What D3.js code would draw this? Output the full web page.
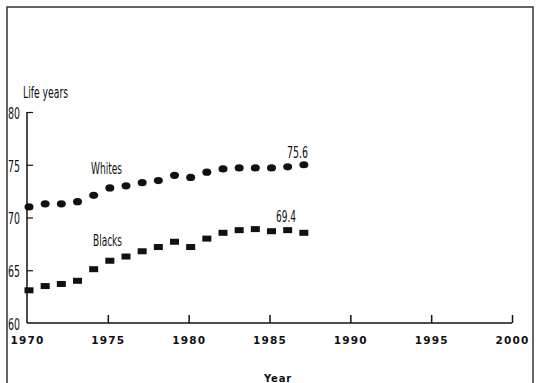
<!DOCTYPE html>
<html>
<head>
<meta charset="utf-8">
<script src="https://cdn.jsdelivr.net/npm/d3@7"></script>
<style>
  html, body { margin: 0; padding: 0; background: #fff; }
  svg { display: block; }
</style>
</head>
<body>
<svg id="chart" width="538" height="383"></svg>
<script>
const years = [1970,1971,1972,1973,1974,1975,1976,1977,1978,1979,1980,1981,1982,1983,1984,1985,1986,1987];
const whites = [71.0,71.3,71.3,71.5,72.1,72.8,73.0,73.3,73.5,74.0,73.8,74.3,74.6,74.7,74.7,74.7,74.8,75.0];
const blacks = [63.1,63.5,63.7,64.0,65.1,65.9,66.3,66.8,67.2,67.7,67.2,68.0,68.55,68.8,68.9,68.7,68.8,68.55];
const xTicks = [1970,1975,1980,1985,1990,1995,2000];
const yTicks = [60,65,70,75,80];
const seriesLabels = ["Whites","Blacks"];
const endLabels = ["75.6","69.4"];

const svg = d3.select("#chart");
const ink = "#111";
const narrow = "'Liberation Sans Narrow','DejaVu Sans Condensed','Liberation Sans',sans-serif";
const wide = "'DejaVu Sans','Verdana',sans-serif";

const x = d3.scaleLinear().domain([1970, 2000]).range([27, 512]);
const y = d3.scaleLinear().domain([60, 80]).range([323, 112]);

// frame
svg.append("path")
  .attr("d", "M7,383 L7,7 L533,7 L533,383")
  .attr("fill", "none").attr("stroke", "#333").attr("stroke-width", 1.5);

// x axis
const xAxis = d3.axisBottom(x).tickValues(xTicks).tickSize(-8).tickFormat(d3.format("d")).tickPadding(14);
const gx = svg.append("g").attr("transform", `translate(0,${y(60)})`).call(xAxis);
gx.select(".domain").attr("stroke", ink).attr("stroke-width", 1.5).attr("d", `M${x(1970)},0H${x(2000)}`);
gx.selectAll(".tick line").attr("stroke", ink).attr("stroke-width", 1.5);
gx.selectAll(".tick").filter(d => d === 1970).select("line").remove();
gx.selectAll(".tick text")
  .attr("fill", ink).attr("font-family", wide).attr("font-weight", "bold")
  .attr("font-size", 10.5).attr("letter-spacing", "1.2px").attr("dy", "0.71em");

// y axis
const yAxis = d3.axisLeft(y).tickValues(yTicks).tickSize(-6).tickPadding(5);
const gy = svg.append("g").attr("transform", `translate(${x(1970)},0)`).call(yAxis);
gy.select(".domain").attr("stroke", ink).attr("stroke-width", 1.5).attr("d", `M0,${y(80)}V${y(60)}`);
gy.selectAll(".tick line").attr("stroke", ink).attr("stroke-width", 1.2);
gy.selectAll(".tick").filter(d => d === 60).select("line").remove();
gy.selectAll(".tick text")
  .attr("fill", ink).attr("font-family", narrow).attr("font-size", 16)
  .attr("text-anchor", "start").attr("x", -19).attr("dy", "0.4em")
  .attr("textLength", 12).attr("lengthAdjust", "spacingAndGlyphs");

// axis titles
svg.append("text").attr("x", 23).attr("y", 98)
  .attr("font-family", narrow).attr("font-size", 15).attr("fill", ink)
  .attr("textLength", 45).attr("lengthAdjust", "spacingAndGlyphs")
  .text("Life years");
svg.append("text").attr("x", 278).attr("y", 382).attr("text-anchor", "middle")
  .attr("font-family", wide).attr("font-weight", "bold").attr("font-size", 10)
  .attr("letter-spacing", "0.8px").attr("fill", ink).text("Year");

// whites: ellipses
svg.append("g").selectAll("ellipse").data(years).join("ellipse")
  .attr("cx", (d, i) => x(d) + 2).attr("cy", (d, i) => y(whites[i]))
  .attr("rx", 4.5).attr("ry", 3.6).attr("fill", ink);

// blacks: rectangles
svg.append("g").selectAll("rect").data(years).join("rect")
  .attr("x", (d, i) => x(d) + 2 - 4.5).attr("y", (d, i) => y(blacks[i]) - 3)
  .attr("width", 9).attr("height", 6).attr("fill", ink);

// series labels
const lab = svg.append("g").attr("font-family", narrow).attr("fill", ink).attr("font-size", 16);
lab.append("text").attr("x", 91).attr("y", 174).attr("textLength", 31).attr("lengthAdjust", "spacingAndGlyphs").text(seriesLabels[0]);
lab.append("text").attr("x", 93).attr("y", 246).attr("textLength", 29).attr("lengthAdjust", "spacingAndGlyphs").text(seriesLabels[1]);
lab.append("text").attr("x", 287).attr("y", 158).attr("textLength", 21).attr("lengthAdjust", "spacingAndGlyphs").text(endLabels[0]);
lab.append("text").attr("x", 276).attr("y", 222).attr("textLength", 20).attr("lengthAdjust", "spacingAndGlyphs").text(endLabels[1]);
</script>
</body>
</html>
